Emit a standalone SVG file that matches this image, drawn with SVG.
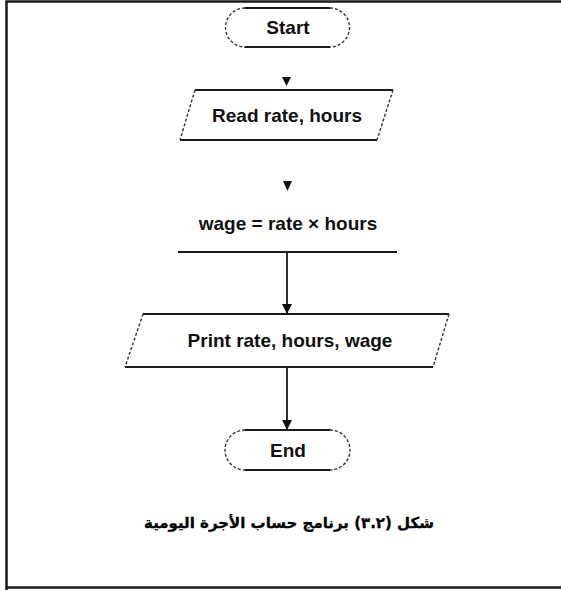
<svg xmlns="http://www.w3.org/2000/svg" width="561" height="590" viewBox="0 0 561 590">
  <defs>
    <marker id="arrow" viewBox="0 0 10 10" refX="10" refY="5" markerWidth="10" markerHeight="10" markerUnits="userSpaceOnUse" orient="auto">
      <path d="M0,0 L10,5 L0,10 Z" fill="#111"/>
    </marker>
  </defs>
  <style>
    .frame { fill: none; stroke: #1a1a1a; stroke-width: 2.5; }
    .solid { fill: none; stroke: #1a1a1a; stroke-width: 1.8; }
    .dash { fill: none; stroke: #333; stroke-width: 1.4; stroke-dasharray: 3 2; }
    .label { font-family: "Liberation Sans", Arial, sans-serif; font-weight: bold; font-size: 19px; fill: #111; text-anchor: middle; }
    .caption { font-family: "DejaVu Sans", "Noto Sans", sans-serif; font-weight: bold; font-size: 15px; fill: #000; stroke: #000; stroke-width: 0.3; text-anchor: middle; }
    .line { fill: none; stroke: #1a1a1a; stroke-width: 1.8; }
    .head { fill: #111; }
  </style>

  <rect width="561" height="590" fill="#fff"/>

  <!-- page frame: left, top and bottom edges -->
  <path class="frame" d="M6.5,590 V1.5 H561"/>
  <path class="frame" d="M6.5,587.5 H561"/>

  <g id="start">
    <line class="solid" x1="245" y1="8" x2="330" y2="8"/>
    <line class="solid" x1="245" y1="47" x2="330" y2="47"/>
    <path class="dash" d="M245,8 A19.5,19.5 0 0 0 245,47"/>
    <path class="dash" d="M330,8 A19.5,19.5 0 0 1 330,47"/>
    <text class="label" x="288" y="34">Start</text>
  </g>

  <g id="read">
    <line class="solid" x1="195" y1="90" x2="393" y2="90"/>
    <line class="solid" x1="180" y1="140" x2="377" y2="140"/>
    <line class="dash" x1="195" y1="90" x2="180" y2="140"/>
    <line class="dash" x1="393" y1="90" x2="377" y2="140"/>
    <text class="label" x="287" y="122">Read rate, hours</text>
  </g>

  <g id="compute">
    <line class="solid" x1="178" y1="252" x2="397" y2="252"/>
    <text class="label" x="288" y="230">wage = rate × hours</text>
  </g>

  <g id="print">
    <line class="solid" x1="143" y1="314" x2="449" y2="314"/>
    <line class="solid" x1="125" y1="367" x2="433" y2="367"/>
    <line class="dash" x1="143" y1="314" x2="125" y2="367"/>
    <line class="dash" x1="449" y1="314" x2="433" y2="367"/>
    <text class="label" x="290" y="347">Print rate, hours, wage</text>
  </g>

  <g id="end">
    <line class="solid" x1="245" y1="430" x2="330" y2="430"/>
    <line class="solid" x1="245" y1="470" x2="330" y2="470"/>
    <path class="dash" d="M245,430 A20,20 0 0 0 245,470"/>
    <path class="dash" d="M330,430 A20,20 0 0 1 330,470"/>
    <text class="label" x="288" y="457">End</text>
  </g>

  <g id="connectors">
    <path class="head" d="M282,77 L291,77 L286.5,86 Z"/>
    <path class="head" d="M283,181 L292,181 L287.5,191 Z"/>
    <line class="line" x1="287" y1="252" x2="287" y2="314" marker-end="url(#arrow)"/>
    <line class="line" x1="287" y1="367" x2="287" y2="430" marker-end="url(#arrow)"/>
  </g>

  <text class="caption" x="289" y="528" direction="rtl" unicode-bidi="embed">شكل (٣.٢) برنامج حساب الأجرة اليومية</text>
</svg>
